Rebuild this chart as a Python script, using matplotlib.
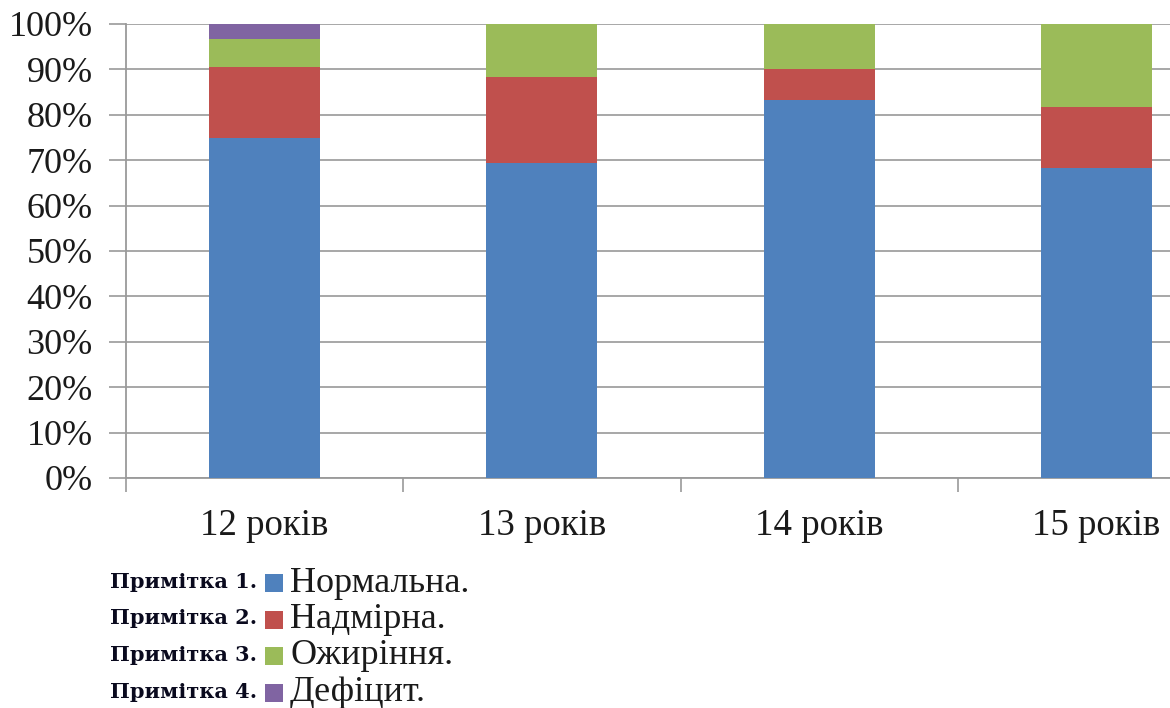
import matplotlib.pyplot as plt
from matplotlib.patches import Rectangle
import numpy as np

# Частка дітей за типом маси тіла, %
ages = ["12 років", "13 років", "14 років", "15 років"]
normal = [75.0, 69.3, 83.3, 68.2]
excess = [15.6, 19.1, 6.7, 13.5]
obesity = [6.2, 11.6, 10.0, 18.3]
deficit = [3.2, 0.0, 0.0, 0.0]

series = [normal, excess, obesity, deficit]
names = ["Нормальна.", "Надмірна.", "Ожиріння.", "Дефіцит."]
notes = ["Примітка 1.", "Примітка 2.", "Примітка 3.", "Примітка 4."]
colors = ["#4F81BD", "#C0504D", "#9BBB59", "#8064A2"]

plt.rcParams["font.family"] = ["Liberation Serif", "DejaVu Serif"]

W, H = 1170, 708
fig = plt.figure(figsize=(W / 100, H / 100), dpi=100)
# plot area runs past the right edge of the figure
ax = fig.add_axes([126 / W, (H - 478) / H, 1109 / W, 454 / H])

x = np.arange(len(ages))
bottom = np.zeros(len(ages))
for vals, c in zip(series, colors):
    ax.bar(x, vals, 0.4, bottom=bottom, color=c, zorder=3)
    bottom += np.array(vals)

ax.set_xlim(-0.5, len(ages) - 0.5)
ax.set_ylim(0, 100)
ax.set_yticks(np.arange(0, 101, 10))
ax.set_yticklabels([f"{v}%" for v in range(0, 101, 10)], fontsize=26, color="#1a1a1a")
ax.set_xticks(x)
ax.set_xticklabels(ages, fontsize=26.5, color="#1a1a1a")
ax.set_xticks(np.arange(-0.5, len(ages), 1), minor=True)
ax.tick_params(axis="x", which="major", length=0, pad=22)
ax.tick_params(axis="x", which="minor", length=10, width=1.2, color="#9a9a9a", direction="out")
ax.tick_params(axis="y", length=12, width=1.2, color="#9a9a9a", direction="out", pad=12)
ax.grid(axis="y", color="#a0a0a0", linewidth=1.3, zorder=0)
for s in ["top", "right"]:
    ax.spines[s].set_visible(False)
for s in ["left", "bottom"]:
    ax.spines[s].set_color("#9a9a9a")
    ax.spines[s].set_linewidth(1.3)

# примітки з легендою під графіком
for i, (note, name, c) in enumerate(zip(notes, names, colors)):
    yc = 582 + i * 36.5
    fig.text(110 / W, 1 - yc / H, note, fontsize=15, fontweight="bold",
             family="DejaVu Serif", color="#0a0a1e", va="center", ha="left")
    fig.patches.append(Rectangle((265 / W, 1 - (yc + 10) / H), 18 / W, 18 / H,
                                 transform=fig.transFigure, facecolor=c,
                                 edgecolor="none"))
    fig.text(290 / W, 1 - (yc + 1) / H, name, fontsize=26, color="#1a1a1a",
             va="center", ha="left")

fig.savefig("out.png", dpi=100)
